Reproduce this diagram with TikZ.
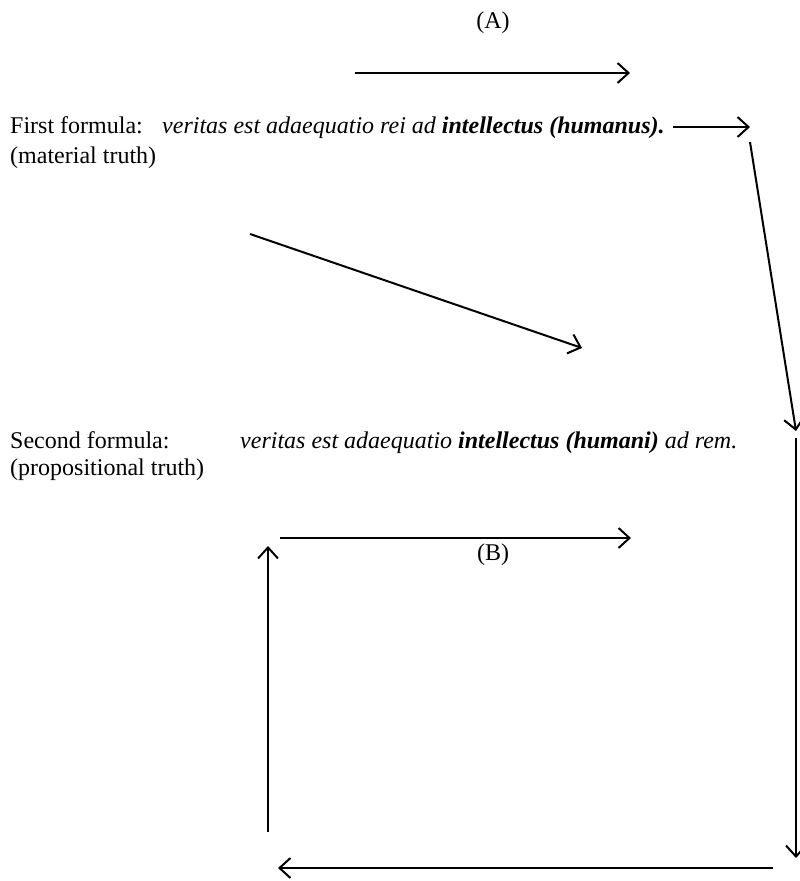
\documentclass[tikz,border=0pt]{standalone}
\usepackage{fontspec}
\setmainfont{Liberation Serif}
\usetikzlibrary{arrows.meta}
\begin{document}
\begin{tikzpicture}[x=1pt,y=-1pt,
  txt/.style={inner sep=0pt,anchor=base west,font=\fontsize{24}{29}\selectfont},
  lbl/.style={inner sep=0pt,anchor=base,font=\fontsize{24}{29}\selectfont},
  arr/.style={line width=2pt,-{Straight Barb[length=11pt,width=20pt,line width=2pt]}}]
\useasboundingbox (0,0) rectangle (800,881);
% labels
\node[lbl] (A) at (493,28) {(A)};
\node[lbl] (B) at (493,560) {(B)};
\node[txt] (f1l) at (10,133) {First formula:};
\node[txt] (f1t) at (162,133) {\itshape veritas est adaequatio rei ad \bfseries intellectus (humanus).};
\node[txt] (f1s) at (10,163) {(material truth)};
\node[txt] (f2l) at (10,448) {Second formula:};
\node[txt] (f2t) at (240,448) {\itshape veritas est adaequatio {\bfseries intellectus (humani)} ad rem.};
\node[txt] (f2s) at (10,475) {(propositional truth)};
% coordinates
\coordinate (a1) at (355,73);
\coordinate (a2) at (630,73);
\coordinate (s1) at (673,127);
\coordinate (s2) at (750,127);
\coordinate (r1) at (750,142);
\coordinate (r2) at (796,431);
\coordinate (d1) at (250,234);
\coordinate (d2) at (582,348);
\coordinate (v1) at (796,438);
\coordinate (v2) at (796,858);
\coordinate (h1) at (773,868);
\coordinate (h2) at (278,868);
\coordinate (u1) at (268,832);
\coordinate (u2) at (268,546);
\coordinate (b1) at (280,538);
\coordinate (b2) at (631,538);
% connectors
\draw[arr] (a1) -- (a2);
\draw[arr] (s1) -- (s2);
\draw[arr] (r1) -- (r2);
\draw[arr] (d1) -- (d2);
\draw[arr] (v1) -- (v2);
\draw[arr] (h1) -- (h2);
\draw[arr] (u1) -- (u2);
\draw[arr] (b1) -- (b2);
\end{tikzpicture}
\end{document}
